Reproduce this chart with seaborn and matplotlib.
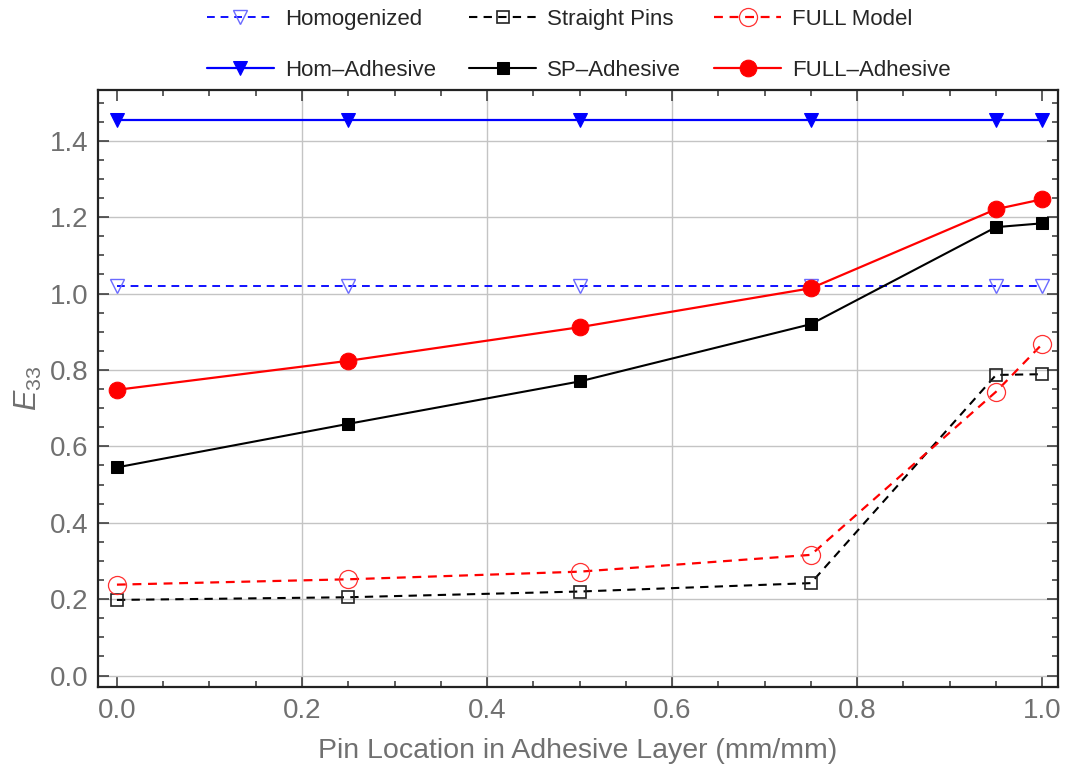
import numpy as np
import pandas as pd
import matplotlib
matplotlib.use("Agg")
import matplotlib.pyplot as plt
from matplotlib.ticker import MultipleLocator, FormatStrFormatter
import seaborn as sns

# Pin location across the adhesive layer (normalised, mm/mm)
pin_location = [0.0, 0.25, 0.5, 0.75, 0.95, 1.0]

# Effective stiffness E33 for each model
homogenized = [1.020, 1.020, 1.020, 1.020, 1.020, 1.020]
hom_adhesive = [1.455, 1.455, 1.455, 1.455, 1.455, 1.455]
straight_pins = [0.198, 0.205, 0.220, 0.242, 0.787, 0.789]
sp_adhesive = [0.545, 0.659, 0.770, 0.920, 1.174, 1.184]
full_model = [0.238, 0.252, 0.272, 0.316, 0.743, 0.868]
full_adhesive = [0.748, 0.824, 0.912, 1.014, 1.221, 1.247]

legend_order = ["Homogenized", "Hom\u2013Adhesive", "Straight Pins",
                "SP\u2013Adhesive", "FULL Model", "FULL\u2013Adhesive"]

sns.set_style("ticks")
plt.rcParams["font.family"] = ["Liberation Sans", "DejaVu Sans"]
plt.rcParams["mathtext.fontset"] = "custom"
plt.rcParams["mathtext.it"] = "Liberation Sans:italic"
plt.rcParams["mathtext.rm"] = "Liberation Sans"

fig = plt.figure(figsize=(10.66, 7.72), dpi=100)
ax = fig.add_axes([0.0919, 0.1101, 0.9006, 0.7733])

dash = (0, (4, 3))
series = [
    (homogenized, "Homogenized", dict(color="#1010ff", linestyle=dash, lw=1.4,
                                      marker="v", markersize=10, markerfacecolor="none",
                                      markeredgecolor="#6a6aff", markeredgewidth=1.0)),
    (hom_adhesive, "Hom\u2013Adhesive", dict(color="#0000ff", linestyle="-", lw=1.6,
                                             marker="v", markersize=10, markerfacecolor="#0000ff",
                                             markeredgecolor="#0000ff")),
    (straight_pins, "Straight Pins", dict(color="black", linestyle=dash, lw=1.5,
                                          marker="s", markersize=8, markerfacecolor="none",
                                          markeredgecolor="#222222", markeredgewidth=1.2)),
    (sp_adhesive, "SP\u2013Adhesive", dict(color="black", linestyle="-", lw=1.5,
                                           marker="s", markersize=8.5, markerfacecolor="black",
                                           markeredgecolor="black")),
    (full_model, "FULL Model", dict(color="#ff0000", linestyle=dash, lw=1.6,
                                    marker="o", markersize=13, markerfacecolor="none",
                                    markeredgecolor="#ff3030", markeredgewidth=0.9)),
    (full_adhesive, "FULL\u2013Adhesive", dict(color="#ff0000", linestyle="-", lw=1.6,
                                               marker="o", markersize=12, markerfacecolor="#ff0000",
                                               markeredgecolor="#ff0000")),
]

handles = {}
for values, name, style in series:
    df = pd.DataFrame({"x": pin_location, "y": values})
    sns.lineplot(data=df, x="x", y="y", ax=ax, label=name, zorder=3, **style)
    handles[name] = ax.get_lines()[-1]

ax.get_legend().remove()

ax.set_xlim(-0.0205, 1.017)
ax.set_ylim(-0.030, 1.533)
ax.xaxis.set_major_locator(MultipleLocator(0.2))
ax.xaxis.set_minor_locator(MultipleLocator(0.05))
ax.yaxis.set_major_locator(MultipleLocator(0.2))
ax.yaxis.set_minor_locator(MultipleLocator(0.05))
ax.xaxis.set_major_formatter(FormatStrFormatter("%.1f"))
ax.yaxis.set_major_formatter(FormatStrFormatter("%.1f"))

ax.grid(True, which="major", color="#c4c4c4", lw=1.0)
for t in ax.xaxis.get_major_ticks():
    if abs(t.get_loc()) < 1e-9 or abs(t.get_loc() - 1.0) < 1e-9:
        t.gridline.set_visible(False)
for t in ax.yaxis.get_major_ticks():
    if abs(t.get_loc()) < 1e-9:
        t.gridline.set_visible(False)
ax.set_axisbelow(True)

ax.tick_params(which="both", direction="in", top=True, right=True,
               colors="#333333", labelcolor="#707070", labelsize=20, width=1.1)
ax.tick_params(which="major", length=8)
ax.tick_params(which="minor", length=4.5)
ax.tick_params(axis="x", which="major", pad=8)
ax.tick_params(axis="y", which="major", pad=7)
for sp in ax.spines.values():
    sp.set_color("#222222")
    sp.set_linewidth(1.6)

ax.set_xlabel("Pin Location in Adhesive Layer (mm/mm)", fontsize=20.5,
              color="#707070", labelpad=10)
ax.set_ylabel(r"$E_{33}$", fontsize=22, color="#707070", labelpad=4)

fig.legend([handles[n] for n in legend_order], legend_order, ncol=3,
           loc="center", bbox_to_anchor=(0.543, 0.942), frameon=False,
           fontsize=16, handlelength=3.0, handletextpad=0.5,
           columnspacing=1.5, labelspacing=1.35, numpoints=1)

fig.savefig("out.png", dpi=100)
